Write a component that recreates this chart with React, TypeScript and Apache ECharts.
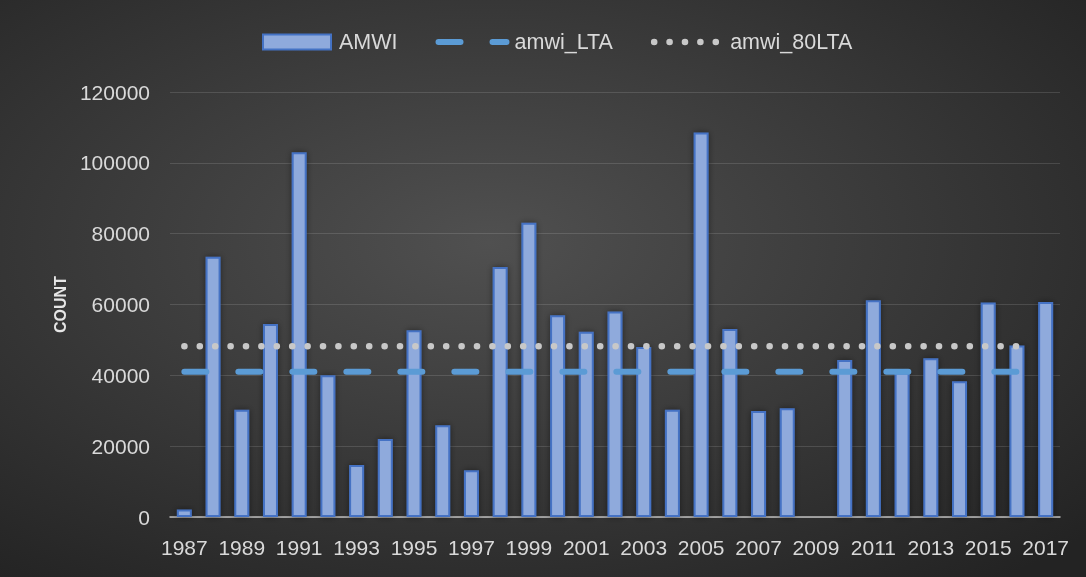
import React, { useEffect, useRef } from "react";
import * as echarts from "echarts";

const years = [
  "1987", "1988", "1989", "1990", "1991", "1992", "1993", "1994", "1995", "1996",
  "1997", "1998", "1999", "2000", "2001", "2002", "2003", "2004", "2005", "2006",
  "2007", "2008", "2009", "2010", "2011", "2012", "2013", "2014", "2015", "2016", "2017",
];

const amwi = [
  2100, 73500, 30300, 54500, 103000, 40000, 14700, 22000, 52700, 25900,
  13200, 70600, 83100, 57000, 52300, 58000, 48000, 30300, 108600, 53100,
  29900, 30700, null, 44300, 61200, 40800, 44800, 38300, 60600, 48400, 60700,
];

const amwiLTA = [
  41000, 41000, 41000, 41000, 41000, 41000, 41000, 41000, 41000, 41000,
  41000, 41000, 41000, 41000, 41000, 41000, 41000, 41000, 41000, 41000,
  41000, 41000, 41000, 41000, 41000, 41000, 41000, 41000, 41000, 41000, null,
];

const amwi80LTA = [
  48200, 48200, 48200, 48200, 48200, 48200, 48200, 48200, 48200, 48200,
  48200, 48200, 48200, 48200, 48200, 48200, 48200, 48200, 48200, 48200,
  48200, 48200, 48200, 48200, 48200, 48200, 48200, 48200, 48200, 48200, null,
];

const seriesNames = ["AMWI", "amwi_LTA", "amwi_80LTA"];
const yAxisTitle = "COUNT";

const FONT = "'Liberation Sans', Arial, sans-serif";
const TEXT_COLOR = "#d9d9d9";

const ltaLine = { color: "#5b9bd5", width: 6, type: [22, 32], cap: "round" };
const lta80Line = { color: "#c8c8c8", width: 6.5, type: [0.1, 15.3], cap: "round" };
const hiddenSymbol = { color: "rgba(0,0,0,0)", opacity: 0, borderWidth: 0 };

export default function App() {
  const ref = useRef<HTMLDivElement>(null);

  useEffect(() => {
    if (!ref.current) return;
    const chart = echarts.init(ref.current, undefined, { renderer: "svg" });
    chart.setOption({
      animation: false,
      backgroundColor: {
        type: "radial",
        x: 0.45,
        y: 0.42,
        r: 0.75,
        colorStops: [
          { offset: 0, color: "#505050" },
          { offset: 1, color: "#232323" },
        ],
      },
      textStyle: { fontFamily: FONT },
      legend: {
        top: 26,
        left: 257,
        itemWidth: 68,
        itemHeight: 15,
        itemGap: 38,
        textStyle: {
          color: TEXT_COLOR,
          fontSize: 21.5,
          fontFamily: FONT,
          padding: [0, 0, 0, 3],
        },
        data: [
          { name: seriesNames[0], icon: "rect" },
          { name: seriesNames[1], itemStyle: hiddenSymbol, lineStyle: ltaLine },
          { name: seriesNames[2], itemStyle: hiddenSymbol, lineStyle: lta80Line },
        ],
      },
      grid: { left: 170, right: 26, top: 92, bottom: 60, containLabel: false },
      xAxis: {
        type: "category",
        data: years,
        boundaryGap: true,
        axisLine: { show: true, lineStyle: { color: "#bfbfbf", width: 1.5 } },
        axisTick: { show: false },
        axisLabel: {
          interval: 1,
          color: TEXT_COLOR,
          fontSize: 21,
          fontFamily: FONT,
          margin: 20,
        },
      },
      yAxis: {
        type: "value",
        min: 0,
        max: 120000,
        interval: 20000,
        name: yAxisTitle,
        nameLocation: "middle",
        nameGap: 102,
        nameRotate: 90,
        nameTextStyle: {
          color: "#e6e6e6",
          fontSize: 16,
          fontWeight: "bold",
          fontFamily: FONT,
        },
        axisLine: { show: false },
        axisTick: { show: false },
        axisLabel: {
          color: TEXT_COLOR,
          fontSize: 21,
          fontFamily: FONT,
          margin: 20,
          formatter: (v: number) => String(v),
        },
        splitLine: { lineStyle: { color: "rgba(255,255,255,0.13)", width: 1 } },
      },
      series: [
        {
          name: seriesNames[0],
          type: "bar",
          data: amwi,
          barWidth: 15,
          itemStyle: {
            color: "#8faadc",
            borderColor: "#4472c4",
            borderWidth: 2,
            shadowColor: "rgba(0,0,0,0.45)",
            shadowBlur: 6,
          },
          z: 2,
        },
        {
          name: seriesNames[1],
          type: "line",
          data: amwiLTA,
          symbol: "none",
          showSymbol: false,
          itemStyle: { color: "#5b9bd5" },
          lineStyle: ltaLine,
          z: 3,
        },
        {
          name: seriesNames[2],
          type: "line",
          data: amwi80LTA,
          symbol: "none",
          showSymbol: false,
          itemStyle: { color: "#c8c8c8" },
          lineStyle: lta80Line,
          z: 4,
        },
      ],
    });
    return () => chart.dispose();
  }, []);

  return (
    <div
      ref={ref}
      style={{ position: "fixed", left: 0, top: 0, width: 1086, height: 577 }}
    />
  );
}
